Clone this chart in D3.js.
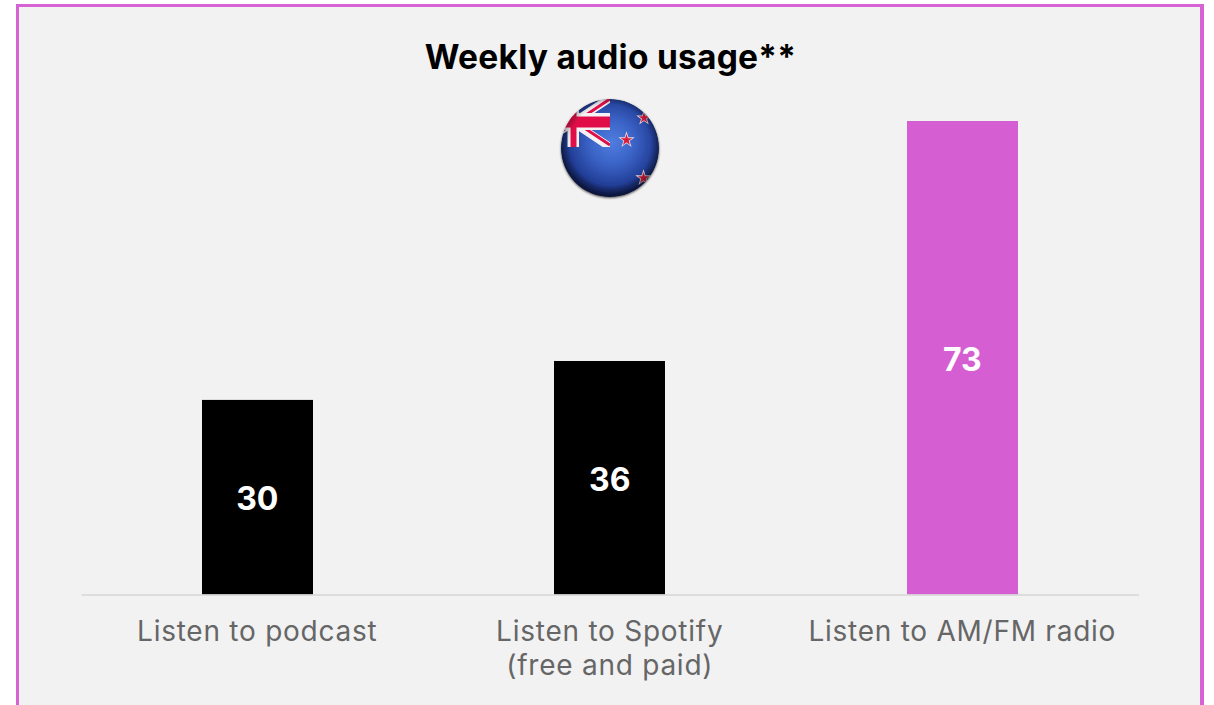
<!DOCTYPE html>
<html>
<head>
<meta charset="utf-8">
<script src="https://cdn.jsdelivr.net/npm/d3@7"></script>
<style>
  html, body { margin: 0; padding: 0; background: #fff; overflow: hidden; }
  svg { display: block; }
  text { font-family: Inter, "Open Sans", sans-serif; }
</style>
</head>
<body>
<svg id="chart" width="1214" height="705"></svg>
<script>
const chartTitle = "Weekly audio usage**";
const categories = ["podcast", "spotify", "radio"];
const categoryLines = [["Listen to podcast"], ["Listen to Spotify", "(free and paid)"], ["Listen to AM/FM radio"]];
const values = [30, 36, 73];
const barColors = ["#000000", "#000000", "#d55ed2"];

const svg = d3.select("#chart");
const defs = svg.append("defs");

// Panel: light grey card, pink rule on three sides, running off the bottom edge
svg.append("rect").attr("x", 16).attr("y", 4).attr("width", 1188).attr("height", 701).attr("fill", "#d762d4");
svg.append("rect").attr("x", 19).attr("y", 7).attr("width", 1181).attr("height", 698).attr("fill", "#f2f2f2");

const x = d3.scaleBand().domain(categories).range([81, 1138.5]).paddingInner(0.685).paddingOuter(0.3425);
const y = d3.scaleLinear().domain([0, 73]).range([594.5, 121]);
const center = c => x(c) + x.bandwidth() / 2;

svg.append("text").attr("x", 610.5).attr("y", 69)
  .attr("text-anchor", "middle").attr("font-size", 33.5).attr("font-weight", 700)
  .attr("letter-spacing", 0.25).attr("fill", "#000").text(chartTitle);

svg.selectAll("rect.bar").data(values).join("rect").attr("class", "bar")
  .attr("x", (d, i) => Math.round(x(categories[i])))
  .attr("width", Math.round(x.bandwidth()))
  .attr("y", d => y(d))
  .attr("height", d => y(0) - y(d))
  .attr("fill", (d, i) => barColors[i]);

// Baseline and category labels come from the band axis
const axis = svg.append("g").attr("transform", "translate(0,594.5)")
  .call(d3.axisBottom(x).tickSize(0).tickFormat(""));
axis.select(".domain").attr("stroke", "#d6d6d6").attr("stroke-width", 1.5);

svg.selectAll("text.cat").data(categories).join("text").attr("class", "cat")
  .attr("text-anchor", "middle").attr("font-size", 28).attr("letter-spacing", 0.75).attr("fill", "#666666")
  .each(function (d, i) {
    d3.select(this).selectAll("tspan").data(categoryLines[i]).join("tspan")
      .attr("x", center(d))
      .attr("y", (l, j) => 641 + j * 34)
      .text(l => l);
  });

svg.selectAll("text.val").data(values).join("text").attr("class", "val")
  .attr("x", (d, i) => center(categories[i]))
  .attr("y", d => (y(d) + y(0)) / 2 + 13)
  .attr("text-anchor", "middle").attr("font-size", 32).attr("font-weight", 700)
  .attr("fill", "#fff").text(d => d);

// New Zealand flag drawn as a shaded globe
const cx = 610, cy = 148, r = 49;
const clip = defs.append("clipPath").attr("id", "globe");
clip.append("circle").attr("cx", cx).attr("cy", cy).attr("r", r);

const shade = defs.append("radialGradient").attr("id", "ball")
  .attr("cx", "52%").attr("cy", "44%").attr("r", "58%");
[[0, "#507de0"], [0.4, "#3a63c6"], [0.75, "#233f98"], [1, "#101f5c"]].forEach(([o, c]) =>
  shade.append("stop").attr("offset", o).attr("stop-color", c));

const rim = defs.append("radialGradient").attr("id", "rim")
  .attr("cx", "50%").attr("cy", "47%").attr("r", "53%");
[[0, "#000", 0], [0.78, "#000", 0], [1, "#000", 0.5]].forEach(([o, c, a]) =>
  rim.append("stop").attr("offset", o).attr("stop-color", c).attr("stop-opacity", a));

defs.append("filter").attr("id", "soft").append("feGaussianBlur").attr("stdDeviation", 0.6);
defs.append("filter").attr("id", "halo").append("feGaussianBlur").attr("stdDeviation", 1.2);

svg.append("circle").attr("cx", cx).attr("cy", cy + 1).attr("r", r)
  .attr("fill", "#555").attr("filter", "url(#halo)");

const flag = svg.append("g").attr("filter", "url(#soft)");
const globe = flag.append("g").attr("clip-path", "url(#globe)");
globe.append("circle").attr("cx", cx).attr("cy", cy).attr("r", r).attr("fill", "url(#ball)");

// Union Jack canton, cropped at its right and lower edges
const cL = 536, cR = 610, cT = 98, cB = 147;
const white = "#f6f2f4", red = "#e0104a";
const canton = defs.append("clipPath").attr("id", "canton");
canton.append("rect").attr("x", cL).attr("y", cT).attr("width", cR - cL).attr("height", cB - cT);
const jack = globe.append("g").attr("clip-path", "url(#canton)");
jack.append("path").attr("d", `M${cL},${cT}L${cR},${cB}M${cR},${cT}L${cL},${cB}`)
  .attr("stroke", white).attr("stroke-width", 8);
jack.append("path").attr("d", `M${cL},${cT - 2}L${cR},${cB - 2}M${cR},${cT + 1}L${cL},${cB + 1}`)
  .attr("stroke", red).attr("stroke-width", 3);
jack.append("rect").attr("x", 567.5).attr("y", cT).attr("width", 11.5).attr("height", cB - cT).attr("fill", white);
jack.append("rect").attr("x", cL).attr("y", 113).attr("width", cR - cL).attr("height", 17).attr("fill", white);
jack.append("rect").attr("x", 570.5).attr("y", cT).attr("width", 6).attr("height", cB - cT).attr("fill", red);
jack.append("rect").attr("x", cL).attr("y", 116.5).attr("width", cR - cL).attr("height", 11).attr("fill", red);

// Southern Cross stars
const star = d3.symbol().type(d3.symbolStar);
[[626.5, 140, 85], [644, 118, 75], [643.5, 178, 85]].forEach(([sx, sy, s]) => {
  const g = globe.append("g").attr("transform", `translate(${sx},${sy})`);
  g.append("path").attr("d", star.size(s)()).attr("fill", "#e4d6e2");
  g.append("path").attr("d", star.size(s * 0.48)()).attr("fill", "#d81f3a");
});

globe.append("circle").attr("cx", cx).attr("cy", cy).attr("r", r).attr("fill", "url(#rim)");
</script>
</body>
</html>
